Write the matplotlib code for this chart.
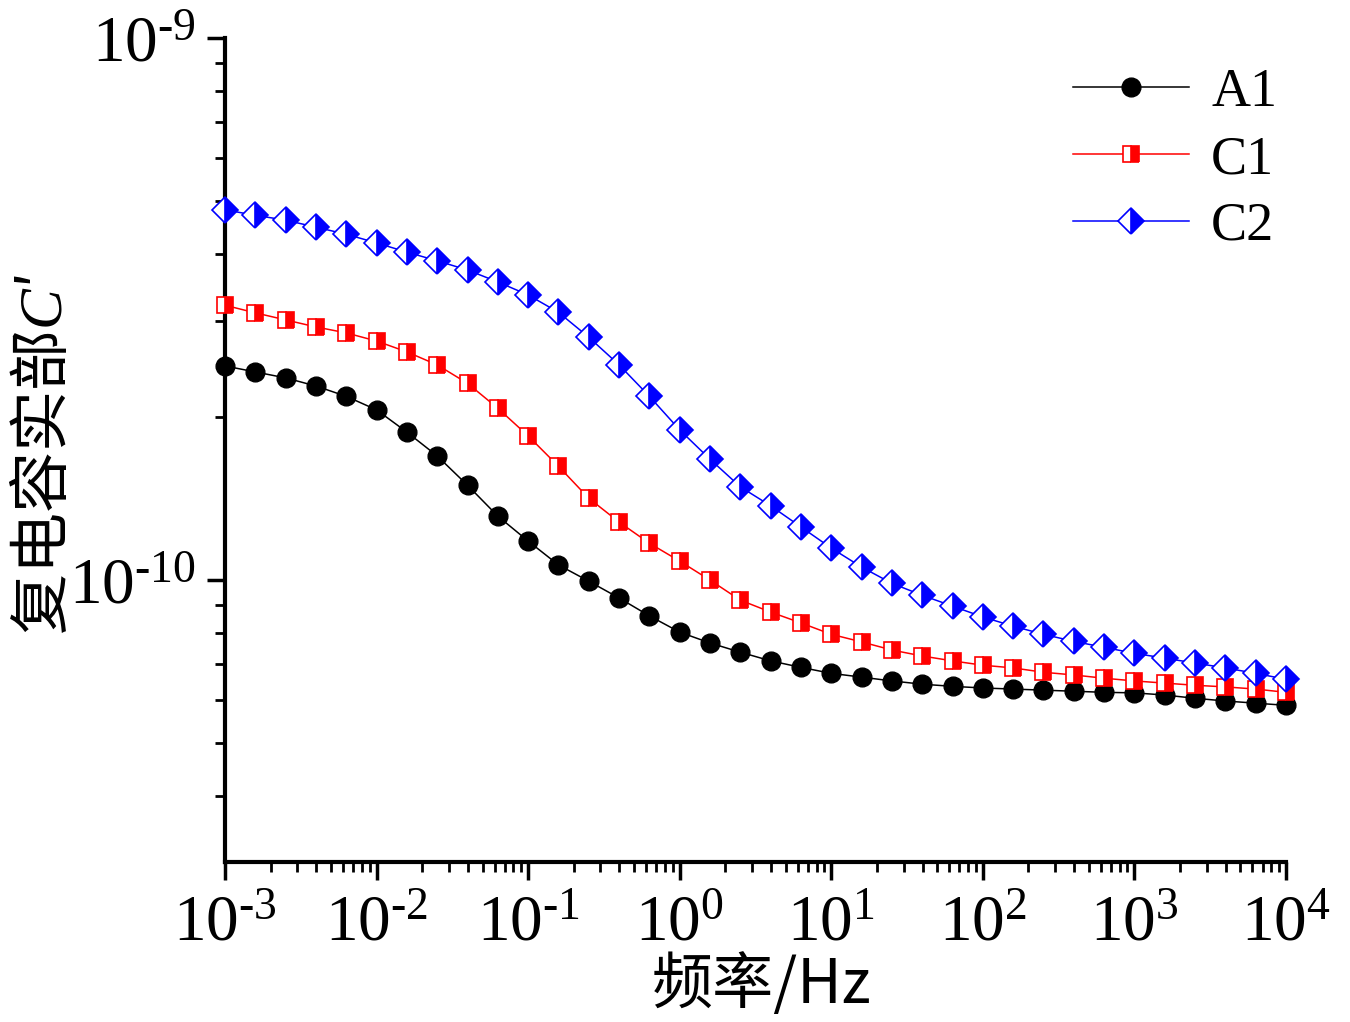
import numpy as np
import matplotlib
matplotlib.use("Agg")
import matplotlib.pyplot as plt
from matplotlib.ticker import LogLocator, FixedLocator, FuncFormatter, NullFormatter

plt.rcParams['font.family'] = ['Liberation Serif', 'Noto Sans CJK SC']
plt.rcParams['mathtext.fontset'] = 'custom'
plt.rcParams['mathtext.rm'] = 'Liberation Serif'
plt.rcParams['mathtext.it'] = 'Liberation Serif:italic'

# frequency: 5 points per decade, 1e-3 .. 1e4
freq_exp = [-3.0, -2.8, -2.6, -2.4, -2.2, -2.0, -1.8, -1.6, -1.4, -1.2,
            -1.0, -0.8, -0.6, -0.4, -0.2, 0.0, 0.2, 0.4, 0.6, 0.8,
            1.0, 1.2, 1.4, 1.6, 1.8, 2.0, 2.2, 2.4, 2.6, 2.8,
            3.0, 3.2, 3.4, 3.6, 3.8, 4.0]
freq = [10 ** e for e in freq_exp]

# log10 of C'
a1_log = [-9.605, -9.616, -9.627, -9.642, -9.661, -9.686, -9.727, -9.771, -9.825, -9.882,
          -9.928, -9.972, -10.002, -10.033, -10.066, -10.096, -10.116, -10.133, -10.149, -10.161,
          -10.172, -10.179, -10.186, -10.192, -10.196, -10.199, -10.201, -10.203, -10.205, -10.207,
          -10.208, -10.212, -10.218, -10.223, -10.227, -10.231]
c1_log = [-9.493, -9.507, -9.520, -9.533, -9.544, -9.559, -9.579, -9.603, -9.637, -9.683,
          -9.734, -9.790, -9.849, -9.893, -9.932, -9.965, -10.000, -10.037, -10.059, -10.079,
          -10.100, -10.114, -10.129, -10.140, -10.149, -10.157, -10.162, -10.170, -10.175, -10.181,
          -10.186, -10.190, -10.194, -10.197, -10.201, -10.207]
c2_log = [-9.317, -9.327, -9.336, -9.349, -9.362, -9.378, -9.395, -9.411, -9.428, -9.450,
          -9.474, -9.506, -9.552, -9.603, -9.661, -9.723, -9.777, -9.828, -9.863, -9.902,
          -9.941, -9.976, -10.006, -10.028, -10.048, -10.068, -10.085, -10.100, -10.113, -10.124,
          -10.135, -10.144, -10.153, -10.162, -10.172, -10.183]

x_major = [1e-3, 1e-2, 1e-1, 1e0, 1e1, 1e2, 1e3, 1e4]
y_major = [1e-10, 1e-9]

a1 = [10 ** v for v in a1_log]
c1 = [10 ** v for v in c1_log]
c2 = [10 ** v for v in c2_log]

fig = plt.figure(figsize=(13.5, 10.22), dpi=100)
ax = fig.add_axes([225 / 1350, 1 - 862 / 1022, (1286 - 225) / 1350, (862 - 38) / 1022])

ax.plot(freq, a1, color='black', lw=1.1, marker='o', ms=13.5, mfc='black', mec='black',
        label='A1', clip_on=False, zorder=3)
ax.plot(freq, c1, color='#ff0000', lw=1.1, marker='s', ms=11.5, fillstyle='right',
        mfc='#ff0000', mfcalt='white', mec='#ff0000', mew=1.2, label='C1', clip_on=False, zorder=3)
ax.plot(freq, c2, color='#0000ff', lw=1.1, marker='D', ms=13, fillstyle='right',
        mfc='#0000ff', mfcalt='white', mec='#0000ff', mew=1.2, label='C2', clip_on=False, zorder=3)

ax.set_xscale('log')
ax.set_yscale('log')
ax.set_xlim(1e-3, 1e4)
ax.set_ylim(10 ** -10.52, 1e-9)

for s in ['top', 'right']:
    ax.spines[s].set_visible(False)
for s in ['left', 'bottom']:
    ax.spines[s].set_linewidth(3)

ax.xaxis.set_major_locator(FixedLocator(x_major))
ax.xaxis.set_minor_locator(LogLocator(base=10, subs=np.arange(2, 10), numticks=20))
ax.yaxis.set_major_locator(FixedLocator(y_major))
ax.yaxis.set_minor_locator(LogLocator(base=10, subs=np.arange(2, 10), numticks=20))


def pow_label(v, pos):
    e = int(round(np.log10(v)))
    if e < 0:
        return r'$\mathregular{10^{\text{-}%d}}$' % (-e)
    return r'$\mathregular{10^{%d}}$' % e


fmt = FuncFormatter(pow_label)
ax.xaxis.set_major_formatter(fmt)
ax.yaxis.set_major_formatter(fmt)
ax.xaxis.set_minor_formatter(NullFormatter())
ax.yaxis.set_minor_formatter(NullFormatter())

ax.tick_params(which='major', direction='out', length=13, width=2.5, labelsize=47)
ax.tick_params(axis='x', which='major', pad=10)
ax.tick_params(axis='y', which='major', pad=8)
ax.tick_params(which='minor', direction='out', length=7, width=2)

ax.set_xlabel('频率/Hz', fontsize=44, family=['Noto Sans CJK SC', 'Liberation Serif'])
ax.xaxis.set_label_coords(0.506, -0.112)
ax.set_ylabel('复电容实部$\\mathit{C}$′', fontsize=44,
              family=['Noto Sans CJK SC', 'Liberation Serif'])
ax.yaxis.set_label_coords(-0.14, 0.495)

leg = ax.legend(loc='upper right', bbox_to_anchor=(1.012, 0.99), frameon=False, fontsize=39,
                handlelength=2.15, handletextpad=0.4, labelspacing=0.3, borderaxespad=0.0)

fig.savefig('out.png', dpi=100)
